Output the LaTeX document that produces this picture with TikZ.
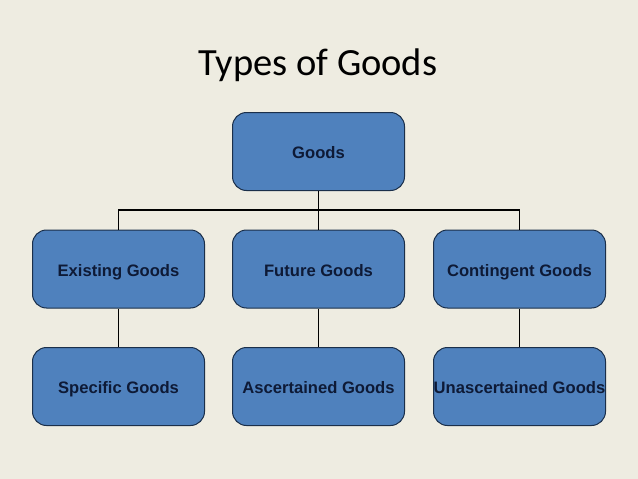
\documentclass[tikz,border=0pt]{standalone}
\usepackage{fontspec}
\setmainfont{Liberation Sans}
\newfontfamily\titlefont{Carlito}
\definecolor{bg}{HTML}{EEECE1}
\definecolor{boxfill}{HTML}{4F81BD}
\definecolor{boxline}{HTML}{1B2F4A}
\definecolor{boxtext}{HTML}{0E1A36}
\begin{document}
\begin{tikzpicture}[x=1pt,y=-1pt,
  goodbox/.style={draw=boxline, line width=1pt, fill=boxfill, rounded corners=14pt,
    minimum width=172pt, minimum height=78pt, inner sep=0pt,
    text height=15.5pt, text depth=1.5pt,
    font=\fontsize{16.6}{18}\selectfont\bfseries, text=boxtext},
  link/.style={draw=black, line width=1.7pt}]
\fill[bg] (0,0) rectangle (638,479);
\useasboundingbox (0,0) rectangle (638,479);
\node[font=\titlefont\fontsize{38.5}{42}\selectfont, text=black] (title) at (318,65) {Types of Goods};
\node[goodbox] (goods) at (318.5,151.5) {Goods};
\node[goodbox] (exist) at (118.5,269) {Existing Goods};
\node[goodbox] (future) at (318.5,269) {Future Goods};
\node[goodbox] (conting) at (519.5,269) {Contingent Goods};
\node[goodbox] (spec) at (118.5,386.5) {Specific Goods};
\node[goodbox] (ascert) at (318.5,386.5) {Ascertained Goods};
\node[goodbox] (unasc) at (519.5,386.5) {Unascertained Goods};
\coordinate (bus) at (318.5,210);
\draw[link] (goods.south) -- (future.north);
\draw[link] (exist.north) |- (bus) -| (conting.north);
\draw[link] (exist.south) -- (spec.north);
\draw[link] (future.south) -- (ascert.north);
\draw[link] (conting.south) -- (unasc.north);
\end{tikzpicture}
\end{document}
